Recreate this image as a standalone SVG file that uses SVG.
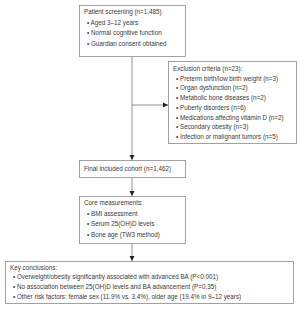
<svg xmlns="http://www.w3.org/2000/svg" width="300" height="309" viewBox="0 0 300 309">
<style>
.box{fill:#fff;stroke:#8a8a8a;stroke-width:0.8}
.t{font-family:"Liberation Sans",Arial,sans-serif;font-size:6.3px;fill:#3a3a3a}
.ln{stroke:#777;stroke-width:0.8;fill:none}
</style>
<defs>
<marker id="ah" markerWidth="6" markerHeight="6" refX="5" refY="3" orient="auto" markerUnits="userSpaceOnUse">
<path d="M0,0.5 L5,3 L0,5.5 Z" fill="#222"/>
</marker>
</defs>
<rect width="300" height="309" fill="#fff"/>
<g id="connectors">
<path class="ln" d="M132,57 V160" marker-end="url(#ah)"/>
<path class="ln" d="M132,105 H168" marker-end="url(#ah)"/>
<path class="ln" d="M132,178 V196" marker-end="url(#ah)"/>
<path class="ln" d="M132,243 V261" marker-end="url(#ah)"/>
</g>
<g id="screening">
<rect class="box" x="79.5" y="5.5" width="106" height="51"/>
<text class="t" x="84" y="14">Patient screening (n=1,485)</text>
<text class="t" x="87" y="24.5">•  Aged 3–12 years</text>
<text class="t" x="87" y="35">•  Normal cognitive function</text>
<text class="t" x="87" y="45.5">•  Guardian consent obtained</text>
</g>
<g id="exclusion">
<rect class="box" x="168.5" y="61.5" width="128" height="82"/>
<text class="t" x="173" y="71">Exclusion criteria (n=23):</text>
<text class="t" x="176" y="80.7">•  Preterm birth/low birth weight (n=3)</text>
<text class="t" x="176" y="90.4">•  Organ dysfunction (n=2)</text>
<text class="t" x="176" y="100.1">•  Metabolic bone diseases (n=2)</text>
<text class="t" x="176" y="109.8">•  Puberty disorders (n=6)</text>
<text class="t" x="176" y="119.5">•  Medications affecting vitamin D (n=2)</text>
<text class="t" x="176" y="129.2">•  Secondary obesity (n=3)</text>
<text class="t" x="176" y="138.9">•  Infection or malignant tumors (n=5)</text>
</g>
<g id="cohort">
<rect class="box" x="79.5" y="160.5" width="106" height="17"/>
<text class="t" x="84" y="171">Final included cohort (n=1,462)</text>
</g>
<g id="core">
<rect class="box" x="79.5" y="196.5" width="106" height="47"/>
<text class="t" x="84" y="205">Core measurements:</text>
<text class="t" x="87" y="215.5">•  BMI assessment</text>
<text class="t" x="87" y="226">•  Serum 25(OH)D levels</text>
<text class="t" x="87" y="236.5">•  Bone age (TW3 method)</text>
</g>
<g id="conclusions">
<rect class="box" x="5.5" y="261.5" width="288" height="42"/>
<text class="t" x="10" y="269.5">Key conclusions:</text>
<text class="t" x="13" y="279.3">•  Overweight/obesity significantly associated with advanced BA (P&lt;0.001)</text>
<text class="t" x="13" y="289.1">•  No association between 25(OH)D levels and BA advancement (P=0.35)</text>
<text class="t" x="13" y="298.9">•  Other risk factors: female sex (11.9% vs. 3.4%), older age (19.4% in 9–12 years)</text>
</g>
</svg>
